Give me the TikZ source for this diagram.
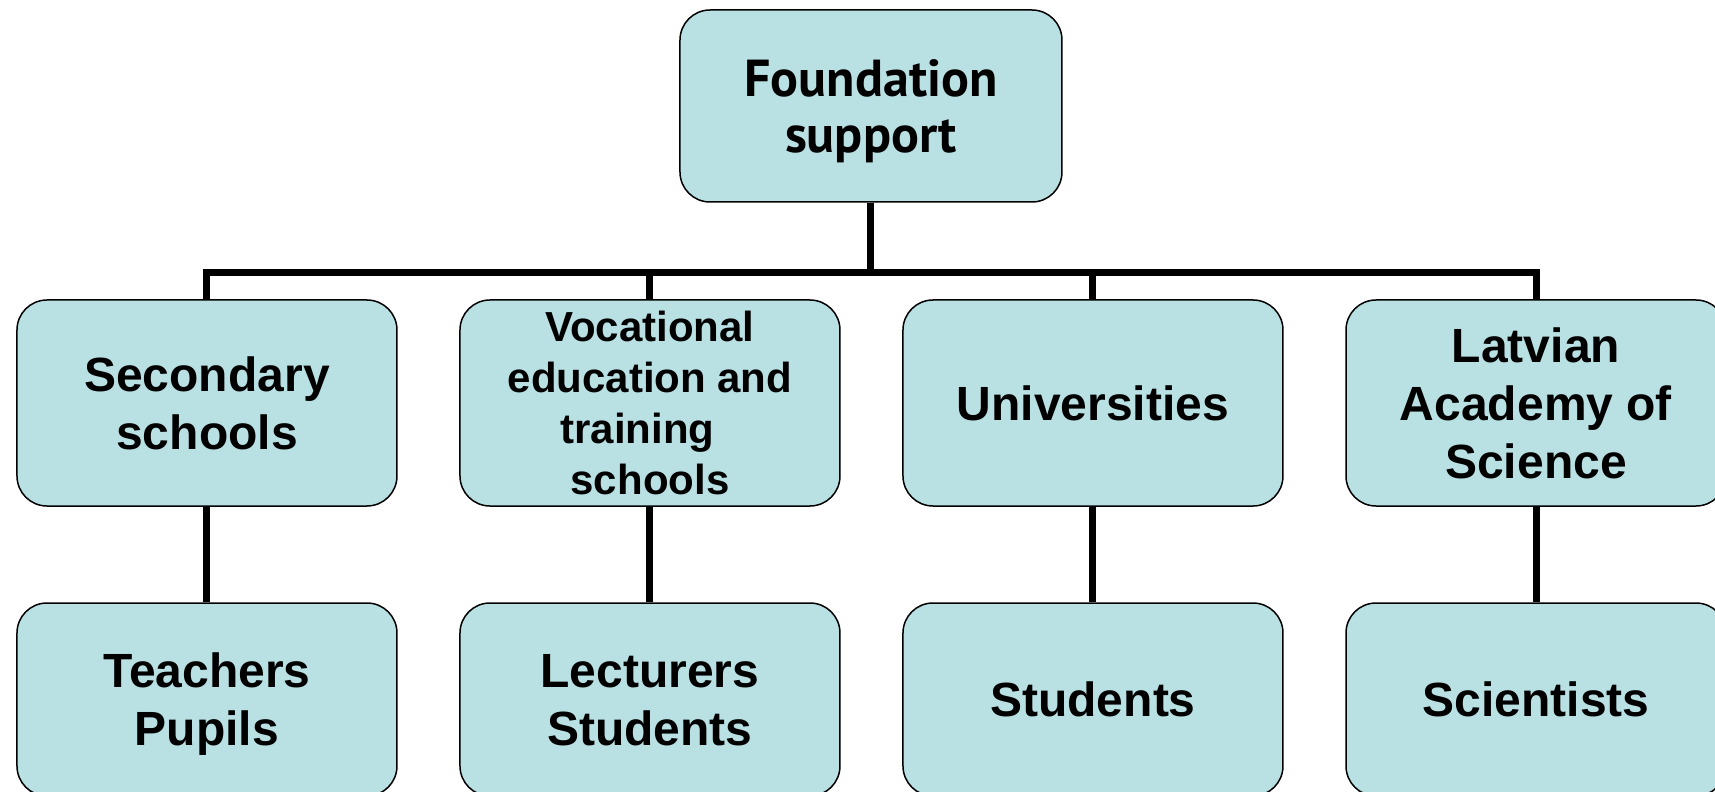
\documentclass[tikz,border=0pt]{standalone}
\usepackage{fontspec}
\setmainfont{Liberation Sans}
\newfontfamily\topfont{PT Sans}
\usepackage{tikz}
\usetikzlibrary{positioning}

\definecolor{boxfill}{RGB}{185,224,227}

\begin{document}
\begin{tikzpicture}[node distance=148.25pt and 221.5pt,on grid,
    orgbox/.style={draw, line width=0.75pt, fill=boxfill, rounded corners=15pt,
      minimum width=190pt, minimum height=103pt, inner sep=0pt, align=center,
      text depth=0pt, font=\fontsize{24}{29}\selectfont\bfseries},
    leafbox/.style={orgbox, minimum height=96.5pt},
    conn/.style={line width=3.5pt}]
   \useasboundingbox (-435.5pt,53pt) rectangle (422pt,-343pt);

   \node[orgbox, minimum width=191pt, minimum height=96pt,
     font=\fontsize{26}{28}\selectfont\topfont\bfseries] (found) at (0,0) {Foundation\\support};

   \node[orgbox, font=\fontsize{21}{25.5}\selectfont\bfseries] (vocat)
     [below left=148.5pt and 110.5pt of found] {Vocational\\education and\\training\rule{12.5pt}{0pt}\\schools};
   \node[orgbox] (second) [left=of vocat]   {Secondary\\schools};
   \node[orgbox] (univ)   [right=of vocat]  {Universities};
   \node[orgbox] (acad)   [right=of univ]   {Latvian\\Academy of\\Science};

   \node[leafbox] (teach)   [below=of second] {Teachers\\Pupils};
   \node[leafbox] (lect)    [below=of vocat]  {Lecturers\\Students};
   \node[leafbox] (stud)    [below=of univ]   {Students};
   \node[leafbox] (scient)  [below=of acad]   {Scientists};

   \coordinate (bar) at (0,-83.25pt);

   \draw[conn] (found.south) -- (bar);
   \draw[conn] (second.north) |- (bar) -| (acad.north);
   \draw[conn] (vocat.north) -- (vocat.north |- bar);
   \draw[conn] (univ.north) -- (univ.north |- bar);
   \draw[conn] (second.south) -- (teach.north);
   \draw[conn] (vocat.south) -- (lect.north);
   \draw[conn] (univ.south) -- (stud.north);
   \draw[conn] (acad.south) -- (scient.north);
\end{tikzpicture}
\end{document}
